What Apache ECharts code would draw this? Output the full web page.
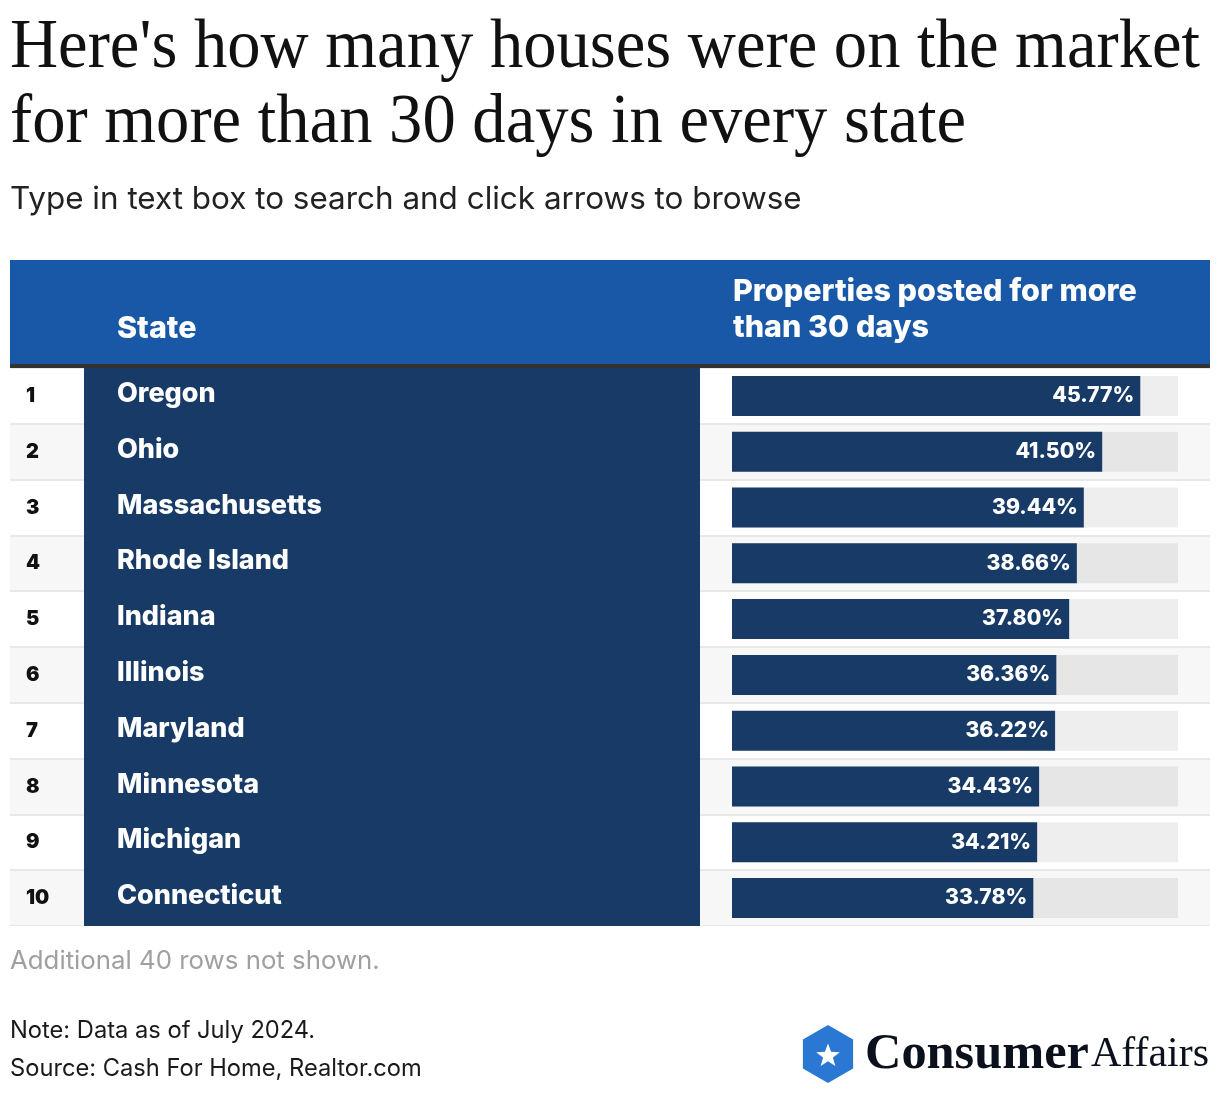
<!DOCTYPE html>
<html>
<head>
<meta charset="utf-8">
<script src="https://cdn.jsdelivr.net/npm/echarts@6/dist/echarts.min.js"></script>
<style>
html,body{margin:0;padding:0;background:#fff;}
#chart{width:1220px;height:1094px;}
</style>
</head>
<body>
<div id="chart"></div>
<script>
// ---- data ----
const ranks = [1, 2, 3, 4, 5, 6, 7, 8, 9, 10];
const states = ['Oregon', 'Ohio', 'Massachusetts', 'Rhode Island', 'Indiana', 'Illinois', 'Maryland', 'Minnesota', 'Michigan', 'Connecticut'];
const values = [45.77, 41.50, 39.44, 38.66, 37.80, 36.36, 36.22, 34.43, 34.21, 33.78];
const titleLines = ["Here's how many houses were on the market", 'for more than 30 days in every state'];
const subtitle = 'Type in text box to search and click arrows to browse';
const headerState = 'State';
const headerValueLines = ['Properties posted for more', 'than 30 days'];
const footNoteRows = 'Additional 40 rows not shown.';
const note = 'Note: Data as of July 2024.';
const source = 'Source: Cash For Home, Realtor.com';

// ---- text fitting helper (layout only) ----
const mc = document.createElement('canvas').getContext('2d');
function textW(text, family, weight, size) {
  mc.font = weight + ' ' + size + 'px ' + family;
  return mc.measureText(text).width;
}
function fit(text, family, weight, width) {
  return 100 * width / textW(text, family, weight, 100);
}
const SERIF = '"Liberation Serif", serif';
const SANS = 'Inter, "Noto Sans", sans-serif';
const HW = '800';
const titleSize = 70;
const titleScale = 1190 / textW(titleLines[0], SERIF, 'normal', titleSize);
const subSize = fit(subtitle, SANS, 'normal', 792);
const hdrSize = fit(headerValueLines[0], SANS, HW, 404);
const nameSize = fit('Massachusetts', SANS, HW, 205);
const valSize = fit('45.77%', SANS, HW, 82);
const addSize = fit(footNoteRows, SANS, 'normal', 370);
const noteSize = fit(source, SANS, 'normal', 412);
const consSize = fit('Consumer', SERIF, 'bold', 224);
const affSize = fit('Affairs', SERIF, 'normal', 118);

function starPoints(cx, cy, R, r) {
  const p = [];
  for (let i = 0; i < 10; i++) {
    const a = -Math.PI / 2 + i * Math.PI / 5;
    const rr = i % 2 === 0 ? R : r;
    p.push([cx + rr * Math.cos(a), cy + rr * Math.sin(a)]);
  }
  return p;
}
function hexPoints(cx, cy, R) {
  const p = [];
  for (let i = 0; i < 6; i++) {
    const a = -Math.PI / 2 + i * Math.PI / 3;
    p.push([cx + R * Math.cos(a), cy + R * Math.sin(a)]);
  }
  return p;
}

const chart = echarts.init(document.getElementById('chart'), null, {renderer: 'canvas'});
const option = {
  animation: false,
  backgroundColor: '#ffffff',
  grid: [
    {left: 10, top: 368, width: 1200, height: 558},
    {left: 732, top: 368, width: 446, height: 558}
  ],
  xAxis: [
    {gridIndex: 0, type: 'value', min: 0, max: 1, show: false},
    {gridIndex: 1, type: 'value', min: 0, max: 50, show: false}
  ],
  yAxis: [
    {
      gridIndex: 0, type: 'category', data: states, inverse: true, z: 0,
      axisLine: {show: false}, axisTick: {show: false}, axisLabel: {show: false},
      splitArea: {show: true, areaStyle: {color: ['#ffffff', '#f7f7f7']}},
      splitLine: {show: true, lineStyle: {color: '#e8e8e8', width: 2}}
    },
    {
      gridIndex: 1, type: 'category', data: states, inverse: true, z: 5,
      axisLine: {show: false}, axisTick: {show: false},
      splitLine: {show: false},
      axisLabel: {
        align: 'left', margin: 706, interval: 0,
        formatter: function (v, i) { return '{r|' + ranks[i] + '}{n|' + v + '}'; },
        rich: {
          r: {width: 91, fontFamily: SANS, fontWeight: 900, fontSize: 20, color: '#111111', padding: [0, 0, 0, 0]},
          n: {fontFamily: SANS, fontWeight: HW, fontSize: nameSize, color: '#ffffff', padding: [0, 0, 4, 0]}
        }
      }
    }
  ],
  series: [{
    type: 'bar', xAxisIndex: 1, yAxisIndex: 1, data: values, barWidth: 40, z: 3,
    itemStyle: {color: '#173a66'},
    showBackground: true,
    backgroundStyle: {color: 'rgba(0,0,0,0.065)'},
    label: {
      show: true, position: 'insideRight', distance: 6,
      formatter: function (p) { return p.value.toFixed(2) + '%'; },
      color: '#ffffff', fontFamily: SANS, fontWeight: HW, fontSize: valSize
    }
  }],
  graphic: [
    {type: 'text', x: 10, y: 49, scaleX: titleScale, z: 10, style: {text: titleLines[0], font: 'normal ' + titleSize + 'px ' + SERIF, fill: '#111111', verticalAlign: 'middle'}},
    {type: 'text', x: 10, y: 124, scaleX: titleScale, z: 10, style: {text: titleLines[1], font: 'normal ' + titleSize + 'px ' + SERIF, fill: '#111111', verticalAlign: 'middle'}},
    {type: 'text', x: 10, y: 200, z: 10, style: {text: subtitle, font: 'normal ' + subSize + 'px ' + SANS, fill: '#222222', verticalAlign: 'middle'}},
    {type: 'rect', z: 1, shape: {x: 10, y: 260, width: 1200, height: 104}, style: {fill: '#1958a7'}},
    {type: 'rect', z: 2, shape: {x: 10, y: 364, width: 1200, height: 4}, style: {fill: '#333333'}},
    {type: 'rect', z: 2, shape: {x: 0, y: 926, width: 1220, height: 4}, style: {fill: '#ffffff'}},
    {type: 'text', x: 117, y: 329, z: 10, style: {text: headerState, font: HW + ' ' + hdrSize + 'px ' + SANS, fill: '#ffffff', verticalAlign: 'middle'}},
    {type: 'text', x: 733, y: 292, z: 10, style: {text: headerValueLines[0], font: HW + ' ' + hdrSize + 'px ' + SANS, fill: '#ffffff', verticalAlign: 'middle'}},
    {type: 'text', x: 733, y: 328, z: 10, style: {text: headerValueLines[1], font: HW + ' ' + hdrSize + 'px ' + SANS, fill: '#ffffff', verticalAlign: 'middle'}},
    {type: 'rect', z: 1, shape: {x: 84, y: 368, width: 616, height: 558}, style: {fill: '#173a66'}},
    {type: 'text', x: 10, y: 961, z: 10, style: {text: footNoteRows, font: 'normal ' + addSize + 'px ' + SANS, fill: '#a0a0a0', verticalAlign: 'middle'}},
    {type: 'text', x: 10, y: 1031, z: 10, style: {text: note, font: 'normal ' + noteSize + 'px ' + SANS, fill: '#1a1a1a', verticalAlign: 'middle'}},
    {type: 'text', x: 10, y: 1069, z: 10, style: {text: source, font: 'normal ' + noteSize + 'px ' + SANS, fill: '#1a1a1a', verticalAlign: 'middle'}},
    {type: 'polygon', z: 10, shape: {points: hexPoints(828, 1054, 29)}, style: {fill: '#2b78d4'}},
    {type: 'polygon', z: 11, shape: {points: starPoints(828, 1056, 12.5, 5.2)}, style: {fill: '#ffffff'}},
    {type: 'text', x: 865, y: 1055, z: 10, style: {text: 'Consumer', font: 'bold ' + consSize + 'px ' + SERIF, fill: '#0b111c', verticalAlign: 'middle'}},
    {type: 'text', x: 1091, y: 1055, z: 10, style: {text: 'Affairs', font: 'normal ' + affSize + 'px ' + SERIF, fill: '#0b111c', verticalAlign: 'middle'}}
  ]
};
chart.setOption(option);
</script>
</body>
</html>
